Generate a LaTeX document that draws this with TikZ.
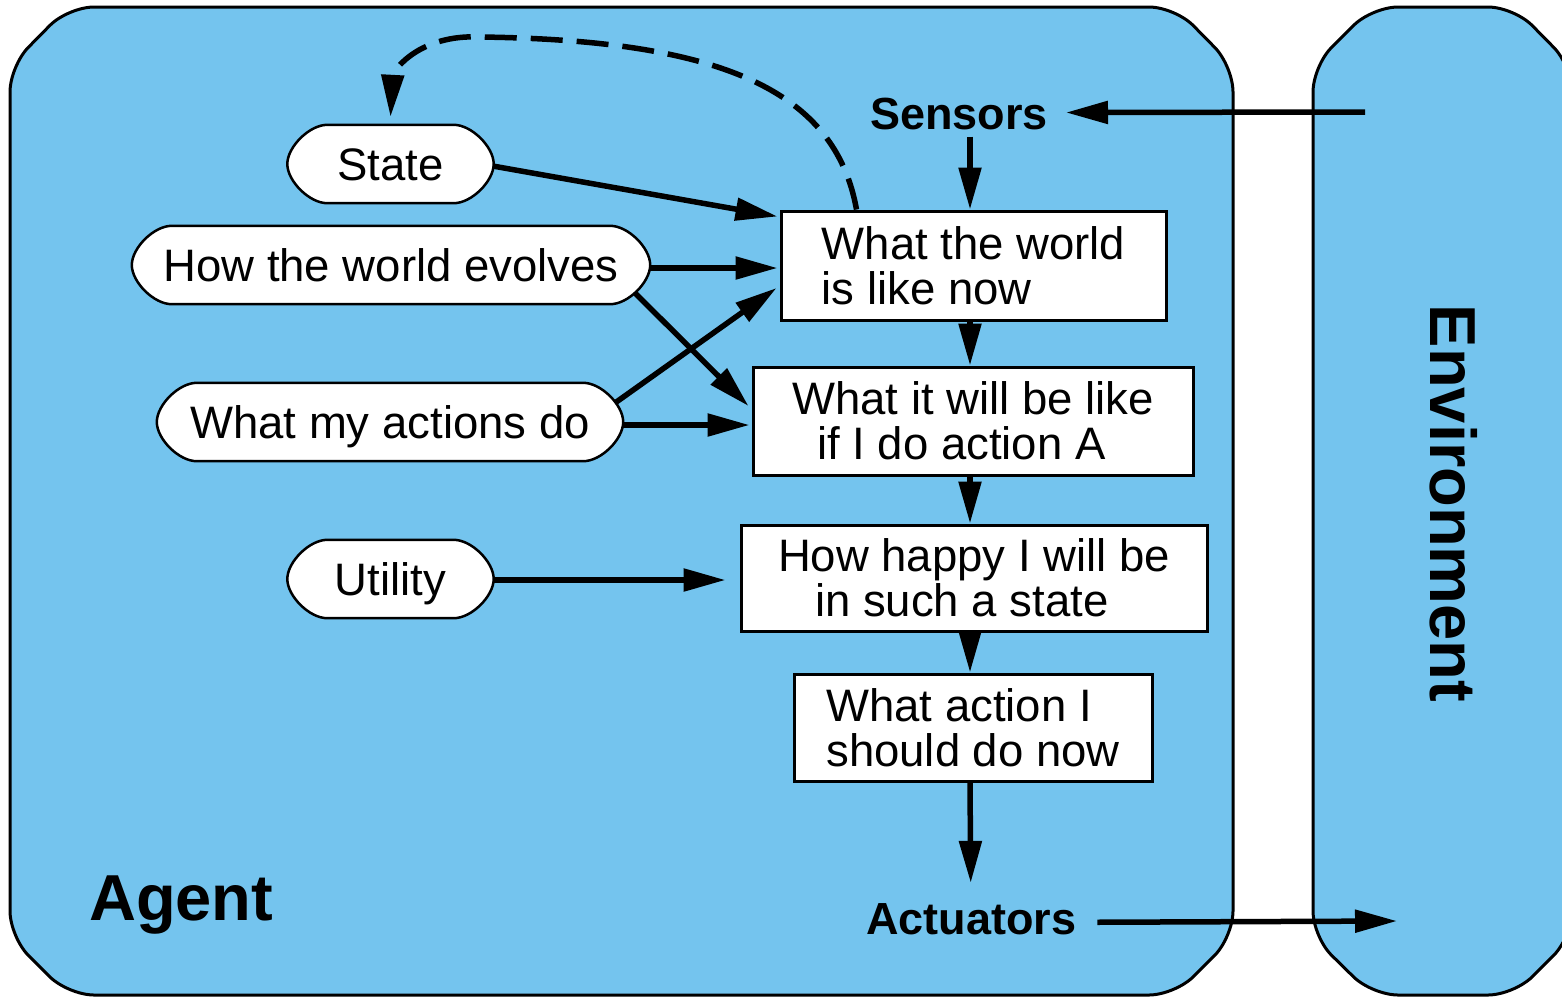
\documentclass[tikz,border=0pt]{standalone}
\usepackage{fontspec}
\setmainfont{Liberation Sans}
\usetikzlibrary{arrows.meta,backgrounds}
\definecolor{panelblue}{RGB}{116,196,238}

% outline of a rounded "pill" with slanted ends around a named node
\newcommand{\pillpath}[1]{%
  \path[pillline]
    ([xshift=40pt]#1.north west) -- ([xshift=-40pt]#1.north east)
    .. controls ([xshift=-22pt]#1.north east) and ([yshift=17pt]#1.east) .. (#1.east)
    .. controls ([yshift=-17pt]#1.east) and ([xshift=-22pt]#1.south east) .. ([xshift=-40pt]#1.south east)
    -- ([xshift=40pt]#1.south west)
    .. controls ([xshift=22pt]#1.south west) and ([yshift=-17pt]#1.west) .. (#1.west)
    .. controls ([yshift=17pt]#1.west) and ([xshift=22pt]#1.north west) .. ([xshift=40pt]#1.north west)
    -- cycle;}

\tikzset{
  panel/.style={draw=black, fill=panelblue, line width=3pt, rounded corners=26pt},
  pillline/.style={draw=black, fill=white, line width=2.5pt},
  pill/.style={inner sep=0pt, minimum height=78pt, text height=32pt, text depth=0pt,
    font=\fontsize{45.5}{46}\selectfont},
  stepbox/.style={draw=black, fill=white, line width=3pt, inner sep=0pt, align=left,
    font=\fontsize{45.5}{45}\selectfont},
  label/.style={inner sep=0pt, font=\fontsize{45}{46}\selectfont\bfseries},
  biglabel/.style={inner sep=0pt, font=\fontsize{65}{66}\selectfont\bfseries},
  arr/.style={line width=5.5pt, -{Triangle[length=42pt,width=22pt]}},
  dasharr/.style={arr, dash pattern=on 32pt off 14pt},
}

\begin{document}
\begin{tikzpicture}[x=1pt,y=-1pt]
\useasboundingbox (0,0) rectangle (1562,997);
\clip (0,0) rectangle (1562,997);

% the two panels
\begin{pgfonlayer}{background}
  \path[panel] (10,66) -- (68,7) -- (1175,7) -- (1233,66) -- (1233,937)
    -- (1175,995) -- (68,995) -- (10,937) -- cycle;
  \path[panel] (1313,66) -- (1372,7) -- (1514,7) -- (1572,66) -- (1572,937)
    -- (1514,995) -- (1372,995) -- (1313,937) -- cycle;
\end{pgfonlayer}

% panel labels
\node[biglabel, anchor=base west] (agent) at (89,920) {Agent};
\node[biglabel, rotate=-90] (env) at (1453.5,503.5) {Environment};

% sensor and actuator labels
\node[label, anchor=base] (sensors) at (959,129) {Sensors};
\node[label, anchor=base west] (actuators) at (866,934) {Actuators};
\coordinate (envin) at (1365,112);
\coordinate (envout) at (1397,921);

% knowledge held by the agent
\node[pill, minimum width=206pt] (state)   at (390.5,164) {State};
\node[pill, minimum width=518pt] (evolves) at (391,265)   {How the world evolves};
\node[pill, minimum width=466pt] (actions) at (390,422)   {What my actions do};
\node[pill, minimum width=206pt] (utility) at (390.5,579) {Utility};

% reasoning steps
\node[stepbox, minimum width=385pt, minimum height=109pt] (world)  at (973.5,265.5)
  {What the world\\is like now};
\node[stepbox, minimum width=440pt, minimum height=108pt] (willbe) at (973,421)
  {What it will be like\\\hspace*{25pt}if I do action A};
\node[stepbox, minimum width=466pt, minimum height=106pt] (happy)  at (974,578)
  {How happy I will be\\\hspace*{37pt}in such a state};
\node[stepbox, minimum width=358pt, minimum height=107pt] (action) at (973,727.5)
  {What action I\\should do now};

\begin{pgfonlayer}{background}
  \pillpath{state}
  \pillpath{evolves}
  \pillpath{actions}
  \pillpath{utility}
\end{pgfonlayer}

% main chain
\draw[arr] (envin) -- ([xshift=18pt,yshift=1pt]sensors.east);
\draw[arr] ([xshift=11pt,yshift=-7pt]sensors.south) -- ([xshift=-3.5pt]world.north);
\draw[arr] ([xshift=-3.5pt]world.south) -- ([xshift=-3pt]willbe.north);
\draw[arr] ([xshift=-3pt]willbe.south) -- ([xshift=-4pt]happy.north);
\draw[arr] ([xshift=-4pt]happy.south) -- ([xshift=-3pt]action.north);
\draw[arr] ([xshift=-3pt]action.south) -- ([xshift=-0.5pt,yshift=20pt]actuators.north);
\draw[arr] ([xshift=21pt,yshift=-3.5pt]actuators.east) -- (envout);

% inputs from the agent's knowledge
\draw[arr] ([xshift=-1pt,yshift=-2pt]state.east) -- ([xshift=-2pt,yshift=-7pt]world.north west);
\draw[arr] ([xshift=-1pt,yshift=-3pt]evolves.east) -- ([xshift=-2pt,yshift=-2.5pt]world.west);
\draw[arr] ([xshift=-15pt,yshift=11pt]evolves.south east) -- ([xshift=-3pt,yshift=15pt]willbe.west);
\draw[arr] ([xshift=-8pt,yshift=-20pt]actions.north east) -- ([xshift=-3pt,yshift=-22.5pt]world.west);
\draw[arr] ([xshift=-1pt,yshift=-3pt]actions.east) -- ([xshift=-2pt,yshift=-4pt]willbe.west);
\draw[arr] ([xshift=-1pt,yshift=-1pt]utility.east) -- ([xshift=-14pt,yshift=-2pt]happy.west);

% state update
\draw[dasharr] ([xshift=77pt]world.north west)
  .. controls (835,90) and (720,40) .. (480,37)
  .. controls (420,34) and (393,70) .. ([yshift=8pt]state.north);
\end{tikzpicture}
\end{document}
